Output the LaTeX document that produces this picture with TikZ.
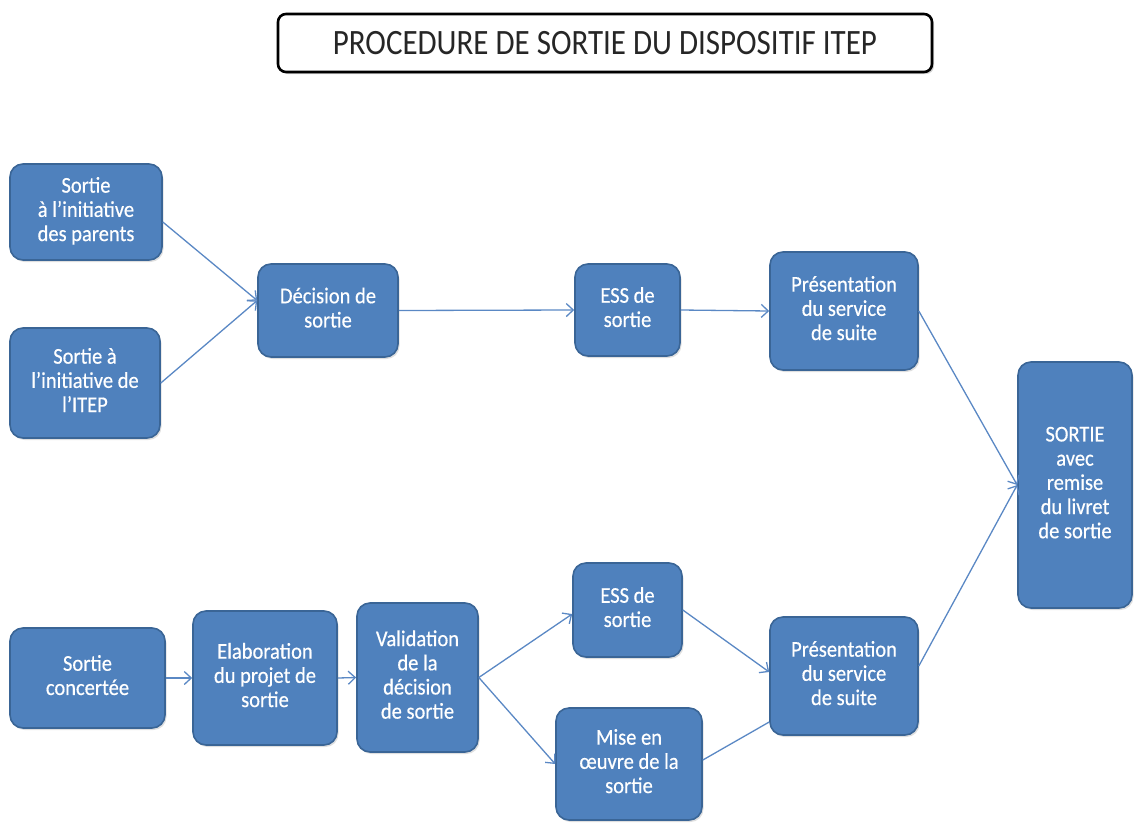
\documentclass[tikz,border=0pt]{standalone}
\usepackage{fontspec}
\usepackage{graphicx}
\setmainfont{Carlito}
\newfontface\boxfont{Carlito}[FakeBold=0.5]
\usetikzlibrary{arrows.meta,shadows}
\definecolor{boxfill}{HTML}{4F81BD}
\definecolor{boxline}{HTML}{3A6596}
\definecolor{arrowcol}{HTML}{5A88C4}
\newcommand\bt[1]{\scalebox{1}[1.1]{\begin{tabular}{@{}c@{}}#1\end{tabular}}}
\tikzset{
  bluebox/.style={draw=boxline, line width=1.6pt, fill=boxfill, rounded corners=13pt,
    text=white, align=center, inner sep=2pt,
    font=\boxfont\fontsize{20.5}{22}\selectfont,
    drop shadow={shadow xshift=1.5pt, shadow yshift=-2pt, opacity=0.25}},
  titlebox/.style={draw=black, line width=2.6pt, fill=white, rounded corners=8pt,
    text=black!85, font=\fontsize{31}{36}\selectfont,
    drop shadow={shadow xshift=2pt, shadow yshift=-2pt, opacity=0.35}},
  conn/.style={draw=arrowcol, line width=1.3pt, -{Straight Barb[length=7pt,width=13pt]}},
  connplain/.style={draw=arrowcol, line width=1.3pt}
}
\begin{document}
\begin{tikzpicture}[x=1pt,y=-1pt]
\useasboundingbox (0,0) rectangle (1134,822);
\node[titlebox, minimum width=654pt, minimum height=58pt] (title) at (605,43) {\scalebox{1}[1.15]{PROCEDURE DE SORTIE DU DISPOSITIF ITEP}};

\node[bluebox, minimum width=152pt, minimum height=96pt] (A) at (86,212) {\bt{Sortie\\à l’initiative\\des parents}};
\node[bluebox, minimum width=150pt, minimum height=110pt] (B) at (85,383) {\bt{Sortie à\\l’initiative de\\l’ITEP}};
\node[bluebox, minimum width=140pt, minimum height=93pt] (dec) at (328,310.5) {\bt{Décision de\\sortie}};
\node[bluebox, minimum width=105pt, minimum height=92pt] (ess1) at (627.5,310) {\bt{ESS de\\sortie}};
\node[bluebox, minimum width=148pt, minimum height=118pt] (pres1) at (844,311) {\bt{Présentation\\du service\\de suite}};
\node[bluebox, minimum width=114pt, minimum height=246pt] (sortie) at (1075,485) {\bt{SORTIE\\avec\\remise\\du livret\\de sortie}};

\node[bluebox, minimum width=155pt, minimum height=100pt] (conc) at (87.5,678) {\bt{Sortie\\concertée}};
\node[bluebox, minimum width=144pt, minimum height=134pt] (elab) at (265,678) {\bt{Elaboration\\du projet de\\sortie}};
\node[bluebox, minimum width=121pt, minimum height=149pt] (valid) at (417.5,677.5) {\bt{Validation\\de la\\décision\\de sortie}};
\node[bluebox, minimum width=109pt, minimum height=94pt] (ess2) at (627.5,610) {\bt{ESS de\\sortie}};
\node[bluebox, minimum width=148pt, minimum height=118pt] (pres2) at (844,676) {\bt{Présentation\\du service\\de suite}};
\node[bluebox, minimum width=146pt, minimum height=112pt] (mise) at (629,764) {\bt{Mise en\\œuvre de la\\sortie}};

\draw[conn] ([yshift=-10pt]A.east) -- ([yshift=10pt]dec.west);
\draw[conn] (B.east) -- ([yshift=10pt]dec.west);
\draw[conn] (dec.east) -- (ess1.west);
\draw[conn] (ess1.east) -- (pres1.west);
\draw[conn] (pres1.east) -- (sortie.west);
\draw[conn] ([yshift=10pt]pres2.east) -- (sortie.west);

\draw[conn] (conc.east) -- (elab.west);
\draw[conn] (elab.east) -- (valid.west);
\draw[conn] (valid.east) -- ([yshift=-4pt]ess2.west);
\draw[conn] (valid.east) -- (mise.west);
\draw[conn] (ess2.east) -- ([yshift=4pt]pres2.west);
\draw[connplain] ([yshift=4pt]mise.east) -- ([yshift=-46pt]pres2.west);
\end{tikzpicture}
\end{document}
